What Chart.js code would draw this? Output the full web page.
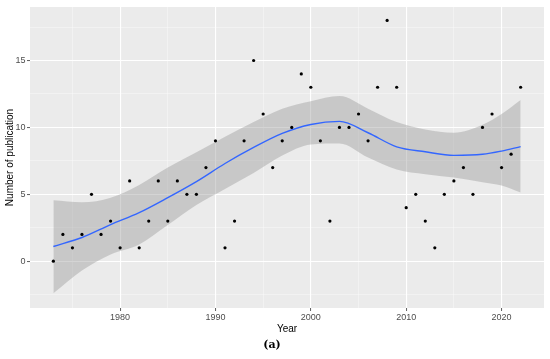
<!DOCTYPE html>
<html><head><meta charset="utf-8">
<script src="https://cdn.jsdelivr.net/npm/chart.js@4.4.0/dist/chart.umd.min.js"></script>
<style>html,body{margin:0;padding:0;background:#fff;}canvas{display:block}</style>
</head><body>
<canvas id="c" width="550" height="359"></canvas>
<script>
// ---- data ----
const years = [1973,1974,1975,1976,1977,1978,1979,1980,1981,1982,
               1983,1984,1985,1986,1987,1988,1989,1990,1991,1992,
               1993,1994,1995,1996,1997,1998,1999,2000,2001,2002,
               2003,2004,2005,2006,2007,2008,2009,2010,2011,2012,
               2013,2014,2015,2016,2017,2018,2019,2020,2021,2022];
const publications = [0,2,1,2,5,2,3,1,6,1,
                      3,6,3,6,5,5,7,9,1,3,
                      9,15,11,7,9,10,14,13,9,3,
                      10,10,11,9,13,18,13,4,5,3,
                      1,5,6,7,5,10,11,7,8,13];
// loess fit and its confidence band, read at selected years
const smoothYears = [1973,1976,1979,1982,1985,1988,1991,1994,1997,2000,2003,2006,2009,2012,2015,2018,2020,2022];
const smoothFit   = [1.10,1.77,2.74,3.63,4.75,5.95,7.30,8.50,9.55,10.22,10.45,9.60,8.55,8.18,7.91,7.99,8.23,8.56];
const bandUpper   = [4.55,4.40,4.75,5.70,7.00,8.15,9.30,10.40,11.40,11.96,12.34,11.40,10.40,9.85,9.60,10.20,11.00,12.05];
const bandLower   = [-2.40,-0.70,0.50,1.25,2.70,4.20,5.40,6.60,7.90,8.73,8.80,7.75,6.85,6.50,6.25,5.90,5.65,5.13];
// axis ticks
const xGrid = [1975,1980,1985,1990,1995,2000,2005,2010,2015,2020];
const xTickLabels = [1980,1990,2000,2010,2020];
const yGrid = [-2.5,0,2.5,5,7.5,10,12.5,15,17.5];
const yTickLabels = [0,5,10,15];

const FONT = "'Liberation Sans', Arial, sans-serif";
const pts = (xs, ys) => xs.map((x,i)=>({x:x, y:ys[i]}));

const panelBg = {
  id:'panelBg',
  beforeDraw(chart){
    const {ctx, chartArea:a} = chart;
    ctx.save();
    ctx.fillStyle = '#EBEBEB';
    ctx.fillRect(a.left, a.top, a.right-a.left, a.bottom-a.top);
    ctx.restore();
  }
};

const gridStyle = (labels) => ({
  color: c => labels.includes(c.tick && c.tick.value) ? '#FFFFFF' : 'rgba(255,255,255,0.6)',
  lineWidth: c => labels.includes(c.tick && c.tick.value) ? 1.1 : 0.6,
  tickColor: c => labels.includes(c.tick && c.tick.value) ? '#333333' : 'rgba(0,0,0,0)',
  tickLength: 3,
  tickWidth: 0.8,
  drawTicks: true
});

new Chart(document.getElementById('c'), {
  type: 'scatter',
  data: {
    datasets: [
      {
        label: 'Publications',
        data: pts(years, publications),
        showLine: false,
        pointRadius: 1.6,
        pointBackgroundColor: '#000',
        pointBorderWidth: 0,
        order: 0
      },
      {
        label: 'Fit',
        type: 'line',
        data: pts(smoothYears, smoothFit),
        borderColor: '#3366FF',
        borderWidth: 1.4,
        pointRadius: 0,
        cubicInterpolationMode: 'monotone',
        fill: false,
        order: 1
      },
      {
        label: 'Upper',
        type: 'line',
        data: pts(smoothYears, bandUpper),
        borderWidth: 0,
        borderColor: 'rgba(0,0,0,0)',
        pointRadius: 0,
        cubicInterpolationMode: 'monotone',
        fill: false,
        order: 2
      },
      {
        label: 'Lower',
        type: 'line',
        data: pts(smoothYears, bandLower),
        borderWidth: 0,
        borderColor: 'rgba(0,0,0,0)',
        backgroundColor: 'rgba(153,153,153,0.42)',
        pointRadius: 0,
        cubicInterpolationMode: 'monotone',
        fill: '-1',
        order: 3
      }
    ]
  },
  options: {
    responsive: false,
    devicePixelRatio: 1,
    animation: false,
    events: [],
    layout: { padding: { top: 7, right: 6, left: 0, bottom: 0 } },
    plugins: {
      legend: { display: false },
      tooltip: { enabled: false },
      title: {
        display: true,
        position: 'bottom',
        text: '(a)',
        color: '#000',
        font: { family: "'DejaVu Serif', 'Liberation Serif', serif", size: 11, weight: 'bold', lineHeight: 1.2 },
        padding: { top: 3.4, bottom: 7.4 }
      }
    },
    scales: {
      x: {
        type: 'linear',
        min: 1970.55,
        max: 2024.45,
        afterBuildTicks: s => { s.ticks = xGrid.map(v => ({ value: v })); },
        afterFit: s => { s.height = 27; },
        ticks: {
          autoSkip: false,
          maxRotation: 0,
          padding: 1,
          color: '#4D4D4D',
          font: { family: FONT, size: 9 },
          callback: v => xTickLabels.includes(v) ? String(v) : ''
        },
        grid: gridStyle(xTickLabels),
        border: { display: false },
        title: {
          display: true,
          text: 'Year',
          color: '#000',
          font: { family: FONT, size: 10, lineHeight: 1.2 },
          padding: { top: 0, bottom: 0 }
        }
      },
      y: {
        type: 'linear',
        min: -3.5,
        max: 19,
        afterBuildTicks: s => { s.ticks = yGrid.map(v => ({ value: v })); },
        afterFit: s => { s.width = 30; },
        ticks: {
          autoSkip: false,
          padding: 1.5,
          color: '#4D4D4D',
          font: { family: FONT, size: 9 },
          callback: v => yTickLabels.includes(v) ? String(v) : ''
        },
        grid: gridStyle(yTickLabels),
        border: { display: false },
        title: {
          display: true,
          text: 'Number of publication',
          color: '#000',
          font: { family: FONT, size: 10, lineHeight: 1.2 },
          padding: { top: 4, bottom: 0 }
        }
      }
    }
  },
  plugins: [panelBg]
});
</script></body></html>
